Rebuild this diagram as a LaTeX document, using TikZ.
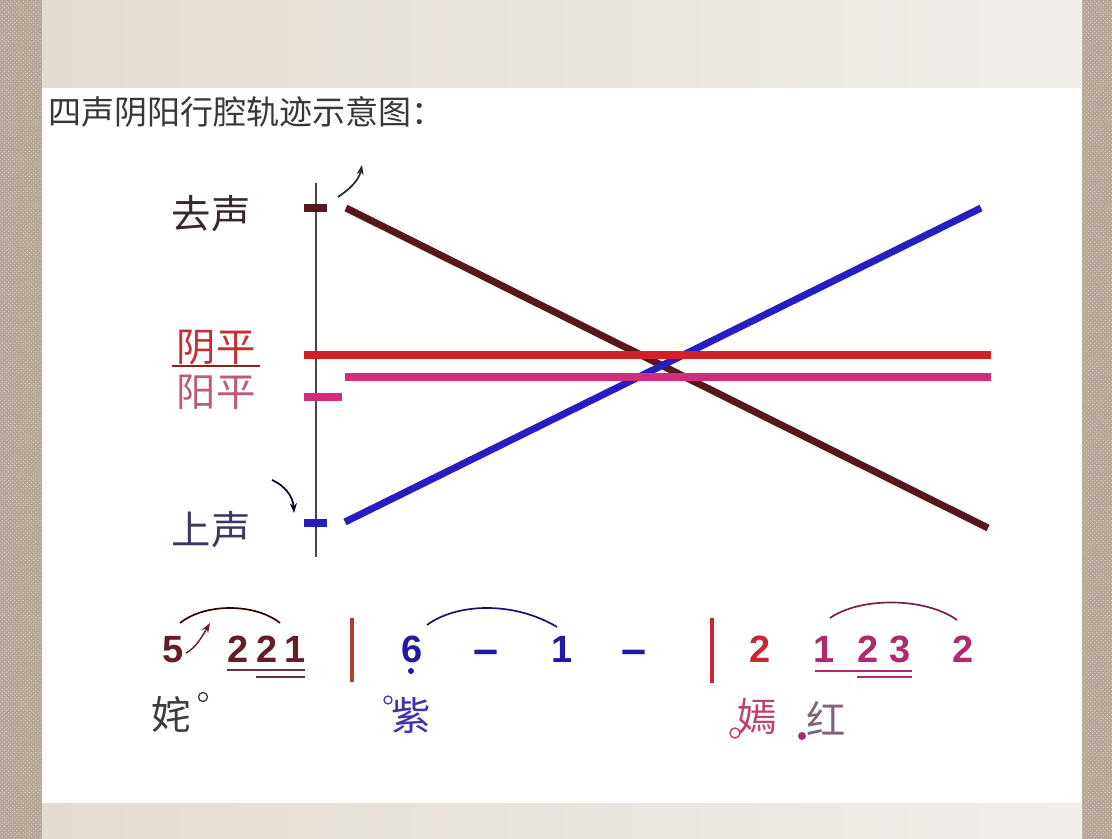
\documentclass[tikz,border=0pt]{standalone}
\usepackage{fontspec}
\setmainfont{Liberation Sans}
\newfontfamily\cjk{Noto Sans CJK SC}
\newfontfamily\digitfont{Liberation Sans}
\usetikzlibrary{arrows.meta,patterns}
\definecolor{bordercol}{RGB}{180,165,150}
\definecolor{borderdot}{RGB}{222,212,200}
\definecolor{bandleft}{RGB}{226,219,209}
\definecolor{bandright}{RGB}{241,238,233}
\definecolor{qucol}{RGB}{88,22,30}
\definecolor{qutext}{RGB}{55,40,42}
\definecolor{shcol}{RGB}{40,28,195}
\definecolor{shtext}{RGB}{58,56,100}
\definecolor{yincol}{RGB}{212,32,36}
\definecolor{yintext}{RGB}{196,48,52}
\definecolor{yangcol}{RGB}{208,46,124}
\definecolor{yangtext}{RGB}{190,90,125}
\definecolor{axiscol}{RGB}{70,70,70}
\definecolor{numbrown}{RGB}{100,30,40}
\definecolor{numblue}{RGB}{34,24,165}
\definecolor{numred}{RGB}{200,40,50}
\definecolor{nummag}{RGB}{178,40,110}
\definecolor{barbrown}{RGB}{178,62,50}
\definecolor{lyrgray}{RGB}{60,60,60}
\definecolor{lyrblue}{RGB}{62,52,170}
\definecolor{lyrmag}{RGB}{192,62,112}
\definecolor{lyrgrey2}{RGB}{130,100,120}
\tikzset{
  tone/.style={line width=5pt},
  tick/.style={line width=5pt},
  lab/.style={inner sep=0pt, font=\cjk\fontsize{28}{28}\selectfont},
  lyr/.style={inner sep=0pt, font=\cjk\fontsize{28}{28}\selectfont},
  num/.style={inner sep=0pt, anchor=base, font=\digitfont\bfseries\fontsize{27}{27}\selectfont},
  dashnum/.style={inner sep=0pt, anchor=base, font=\digitfont\bfseries\fontsize{32}{32}\selectfont},
  uline/.style={line width=1.7pt},
  slur/.style={line width=1.2pt},
  smallarrow/.style={line width=1.2pt, -{Stealth[length=7pt,width=5pt]}},
  barl/.style={line width=2.2pt}
}
\begin{document}
\begin{tikzpicture}[x=0.025cm,y=-0.025cm]
\useasboundingbox (0,0) rectangle (1112,839);
% background and frame
\fill[bordercol] (0,0) rectangle (1112,839);
\fill[pattern=crosshatch dots, pattern color=borderdot] (0,0) rectangle (1112,839);
\fill[left color=bandleft, right color=bandright] (42,0) rectangle (1082,88);
\fill[left color=bandleft, right color=bandright] (42,803) rectangle (1082,839);
\fill[white] (42,88) rectangle (1082,803);
% title
\node[anchor=west, inner sep=0pt, text=black!78, font=\cjk\fontsize{23.5}{23.5}\selectfont] (title) at (48,112) {四声阴阳行腔轨迹示意图：};
% axis
\coordinate (axtop) at (316,183);
\coordinate (axbot) at (316,557);
\draw[axiscol, line width=1.4pt] (axtop) -- (axbot);
% ticks
\coordinate (quA) at (304,208); \coordinate (quB) at (327,208);
\coordinate (yangA) at (304,397); \coordinate (yangB) at (342,397);
\coordinate (shA) at (304,523); \coordinate (shB) at (327,523);
\draw[tick, qucol] (quA) -- (quB);
\draw[tick, yangcol] (yangA) -- (yangB);
\draw[tick, shcol] (shA) -- (shB);
% tone lines
\coordinate (yinS) at (304,355); \coordinate (yinE) at (991,355);
\coordinate (yangS) at (345,377); \coordinate (yangE) at (991,377);
\coordinate (quS) at (346,208); \coordinate (quE) at (988,528);
\coordinate (shS) at (345,522); \coordinate (shE) at (981,208);
\draw[tone, qucol] (quS) -- (quE);
\draw[tone, shcol] (shS) -- (shE);
\draw[tone, yincol] (yinS) -- (yinE);
\draw[tone, yangcol] (yangS) -- (yangE);
% labels
\node[lab, text=qutext] (qu) at (211,214) {去声};
\node[lab, text=yintext] (yin) at (216,347) {阴平};
\coordinate (yinUL) at (172,366); \coordinate (yinUR) at (260,366);
\draw[line width=1pt, yintext!70!black] (yinUL) -- (yinUR);
\node[lab, text=yangtext] (yang) at (216,392) {阳平};
\node[lab, text=shtext] (shang) at (211,530) {上声};
% small curved arrows
\coordinate (a1s) at (338,197); \coordinate (a1e) at (362,165);
\draw[smallarrow, black!85] (a1s) .. controls (350,189) and (359,180) .. (a1e);
\coordinate (a2s) at (272,480); \coordinate (a2e) at (294,513);
\draw[smallarrow, black!85!blue] (a2s) .. controls (284,485) and (293,496) .. (a2e);
% notation row
\node[num, text=numbrown] (n5) at (173,662) {5};
\coordinate (a3s) at (186,653); \coordinate (a3e) at (210,623);
\draw[smallarrow, numbrown, line width=1pt] (a3s) .. controls (196,648) and (203,635) .. (a3e);
\node[num, text=numbrown] (n2a) at (238,662) {2};
\node[num, text=numbrown] (n2b) at (267,662) {2};
\node[num, text=numbrown] (n1a) at (295,662) {1};
\coordinate (u1a) at (227,670); \coordinate (u1b) at (305,670);
\coordinate (u2a) at (256,677); \coordinate (u2b) at (305,677);
\draw[uline, numbrown!80!gray] (u1a) -- (u1b);
\draw[uline, numbrown!80!gray] (u2a) -- (u2b);
\coordinate (s1a) at (180,623); \coordinate (s1b) at (280,623);
\draw[slur, black!80!red] (s1a) .. controls (205,603) and (255,603) .. (s1b);
\coordinate (bar1t) at (352,618); \coordinate (bar1b) at (352,682);
\draw[barl, barbrown] (bar1t) -- (bar1b);
\node[num, text=numblue] (n6) at (412,662) {6};
\fill[numblue] (411,671) circle[radius=3];
\coordinate (s2a) at (427,625); \coordinate (s2b) at (557,627);
\draw[slur, numblue!70!black] (s2a) .. controls (455,604) and (512,600) .. (s2b);
\node[dashnum, text=numblue] (d1) at (486,664) {–};
\node[num, text=numblue] (n1b) at (562,662) {1};
\node[dashnum, text=numblue] (d2) at (634,664) {–};
\coordinate (bar2t) at (712,618); \coordinate (bar2b) at (712,683);
\draw[barl, numred] (bar2t) -- (bar2b);
\node[num, text=numred] (n2c) at (760,662) {2};
\node[num, text=nummag] (n1c) at (824,662) {1};
\node[num, text=nummag] (n2d) at (868,662) {2};
\node[num, text=nummag] (n3) at (900,662) {3};
\node[num, text=nummag] (n2e) at (963,662) {2};
\coordinate (u3a) at (815,671); \coordinate (u3b) at (912,671);
\coordinate (u4a) at (857,677); \coordinate (u4b) at (912,677);
\draw[uline, nummag] (u3a) -- (u3b);
\draw[uline, nummag] (u4a) -- (u4b);
\coordinate (s3a) at (830,618); \coordinate (s3b) at (957,620);
\draw[slur, nummag!70!black] (s3a) .. controls (860,597) and (925,597) .. (s3b);
% lyrics
\node[lyr, text=lyrgray] (cha) at (171,714) {姹};
\draw[black!80, line width=0.9pt, fill=white] (203,697) circle[radius=4.5];
\node[lyr, text=lyrblue] (zi) at (411,716) {紫};
\draw[lyrblue, line width=0.9pt, fill=white] (388,700) circle[radius=4];
\node[lyr, text=lyrmag] (yan) at (757,716) {嫣};
\draw[lyrmag, line width=1pt, fill=white] (735,733) circle[radius=5];
\node[lyr, text=lyrgrey2] (hong) at (826,718) {红};
\fill[nummag] (802,736) circle[radius=4];
\end{tikzpicture}
\end{document}
